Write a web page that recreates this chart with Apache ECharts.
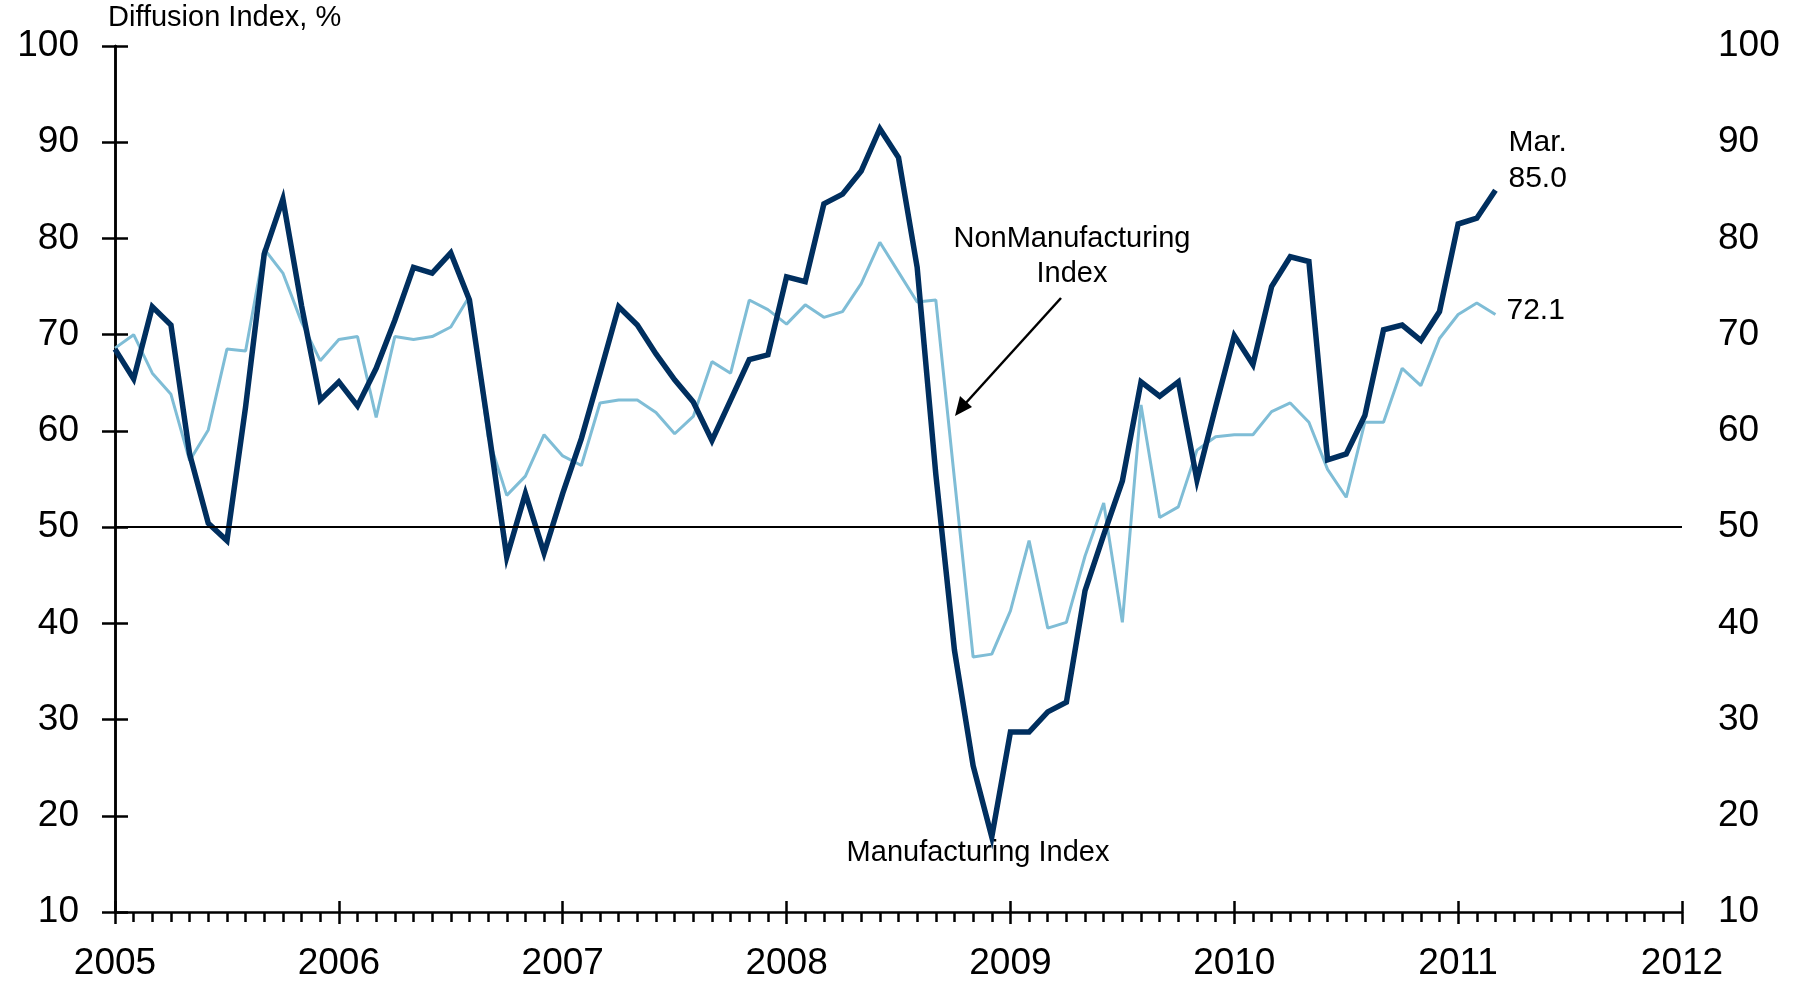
<!DOCTYPE html>
<html>
<head>
<meta charset="utf-8">
<script src="https://cdn.jsdelivr.net/npm/echarts@6/dist/echarts.min.js"></script>
<style>
  html, body { margin: 0; padding: 0; background: #fff; }
  #chart { width: 1798px; height: 984px; }
</style>
</head>
<body>
<div id="chart"></div>
<script>
// monthly, Jan 2005 .. Mar 2011
const years = ['2005', '2006', '2007', '2008', '2009', '2010', '2011', '2012']
const manufacturing = [
  68.5, 65.4, 72.9, 71.0, 57.6, 50.4, 48.6, 62.5, 78.4, 84.1, 73.0, 63.2,
  65.1, 62.6, 66.5, 71.5, 77.0, 76.4, 78.5, 73.6, 60.5, 46.9, 53.5, 47.3,
  53.5, 59.2, 66.0, 72.9, 71.0, 68.0, 65.3, 63.0, 59.0, 63.2, 67.4, 67.9,
  76.0, 75.5, 83.6, 84.6, 87.0, 91.4, 88.4, 77.0, 55.5, 37.2, 25.2, 17.8,
  28.7, 28.7, 30.8, 31.8, 43.4, 49.2, 54.8, 65.1, 63.6, 65.1, 54.9, 62.5,
  69.9, 66.9, 75.0, 78.1, 77.6, 57.0, 57.6, 61.6, 70.5, 71.0, 69.4, 72.4,
  81.5, 82.1, 85.0
]
const nonManufacturing = [
  68.6, 70.0, 66.0, 63.8, 56.9, 60.1, 68.5, 68.3, 78.9, 76.4, 71.3, 67.3,
  69.5, 69.8, 61.4, 69.8, 69.5, 69.8, 70.8, 74.0, 59.4, 53.3, 55.3, 59.6,
  57.4, 56.4, 62.9, 63.2, 63.2, 61.9, 59.7, 61.5, 67.2, 66.0, 73.6, 72.6,
  71.1, 73.1, 71.8, 72.4, 75.3, 79.6, 76.5, 73.4, 73.6, 55.0, 36.5, 36.8,
  41.3, 48.6, 39.5, 40.1, 47.0, 52.5, 40.1, 62.7, 51.0, 52.1, 58.0, 59.4,
  59.6, 59.6, 62.0, 62.9, 60.9, 56.0, 53.1, 60.9, 60.9, 66.5, 64.7, 69.6,
  72.1, 73.3, 72.1
]
const lastLabel = 'Mar.'
const threshold = 50

const font = 'Liberation Sans, Arial, sans-serif'
const axisColor = '#000'

const chart = echarts.init(document.getElementById('chart'))

const yAxisBase = {
  type: 'value',
  min: 10,
  max: 100,
  interval: 10,
  splitLine: { show: false },
  axisLine: { show: true, lineStyle: { color: axisColor, width: 2.5 } },
  axisTick: { show: true, length: 13, lineStyle: { color: axisColor, width: 2.5 } },
  axisLabel: { color: '#000', fontSize: 37, fontFamily: font, margin: 36 }
}

chart.setOption({
  animation: false,
  backgroundColor: '#fff',
  grid: { left: 115, right: 116, top: 46, bottom: 72 },
  xAxis: [
    {
      type: 'value',
      min: 0,
      max: (years.length - 1) * 12,
      interval: 12,
      position: 'bottom',
      splitLine: { show: false },
      axisLine: { show: true, onZero: false, lineStyle: { color: axisColor, width: 2.5 } },
      axisTick: { show: true, length: 12, lineStyle: { color: axisColor, width: 2.5 } },
      minorTick: { show: true, splitNumber: 12, length: 10, lineStyle: { color: axisColor, width: 2.5 } },
      axisLabel: {
        color: '#000', fontSize: 37, fontFamily: font, margin: 33,
        showMinLabel: true, showMaxLabel: true,
        formatter: v => years[Math.round(v / 12)]
      }
    },
    {
      // upper half of the year ticks
      type: 'value',
      min: 0,
      max: (years.length - 1) * 12,
      interval: 12,
      position: 'bottom',
      splitLine: { show: false },
      axisLine: { show: false, onZero: false },
      axisTick: { show: true, inside: true, length: 11, lineStyle: { color: axisColor, width: 2.5 } },
      axisLabel: { show: false }
    }
  ],
  yAxis: [
    Object.assign({}, yAxisBase, { position: 'left' }),
    Object.assign({}, yAxisBase, { position: 'right' })
  ],
  series: [
    {
      type: 'line',
      data: [],
      z: 1,
      markLine: {
        silent: true,
        symbol: 'none',
        label: { show: false },
        lineStyle: { color: '#000', width: 2, type: 'solid' },
        data: [{ yAxis: threshold }]
      }
    },
    {
      name: 'NonManufacturing Index',
      type: 'line',
      z: 3,
      data: nonManufacturing.map((v, i) => [i, v]),
      showSymbol: false,
      lineStyle: { color: '#7fbdd6', width: 3 },
      itemStyle: { color: '#7fbdd6' },
      endLabel: {
        show: true,
        distance: 11,
        offset: [0, -4],
        color: '#000',
        fontSize: 30,
        fontFamily: font,
        formatter: p => p.value[1].toFixed(1)
      }
    },
    {
      name: 'Manufacturing Index',
      type: 'line',
      z: 4,
      data: manufacturing.map((v, i) => [i, v]),
      showSymbol: false,
      lineStyle: { color: '#002f5f', width: 5.5, join: 'miter' },
      itemStyle: { color: '#002f5f' },
      endLabel: {
        show: true,
        distance: 13,
        offset: [0, -30],
        color: '#000',
        fontSize: 30,
        lineHeight: 36,
        fontFamily: font,
        formatter: p => lastLabel + '\n' + p.value[1].toFixed(1)
      }
    }
  ],
  graphic: [
    {
      type: 'text',
      left: 108,
      top: 3,
      style: { text: 'Diffusion Index, %', fontSize: 29, fontFamily: font, fill: '#000' }
    },
    {
      type: 'text',
      x: 1072,
      y: 256,
      style: {
        text: 'NonManufacturing\nIndex',
        fontSize: 29,
        lineHeight: 35,
        fontFamily: font,
        fill: '#000',
        align: 'center',
        verticalAlign: 'middle'
      }
    },
    {
      type: 'text',
      x: 978,
      y: 853,
      style: {
        text: 'Manufacturing Index',
        fontSize: 29,
        fontFamily: font,
        fill: '#000',
        align: 'center',
        verticalAlign: 'middle'
      }
    },
    {
      type: 'line',
      shape: { x1: 1061, y1: 298, x2: 964, y2: 405 },
      style: { stroke: '#000', lineWidth: 2.5 }
    },
    {
      type: 'polygon',
      shape: { points: [[955, 416], [960, 396], [972, 407]] },
      style: { fill: '#000' }
    }
  ]
})
</script>
</body>
</html>
